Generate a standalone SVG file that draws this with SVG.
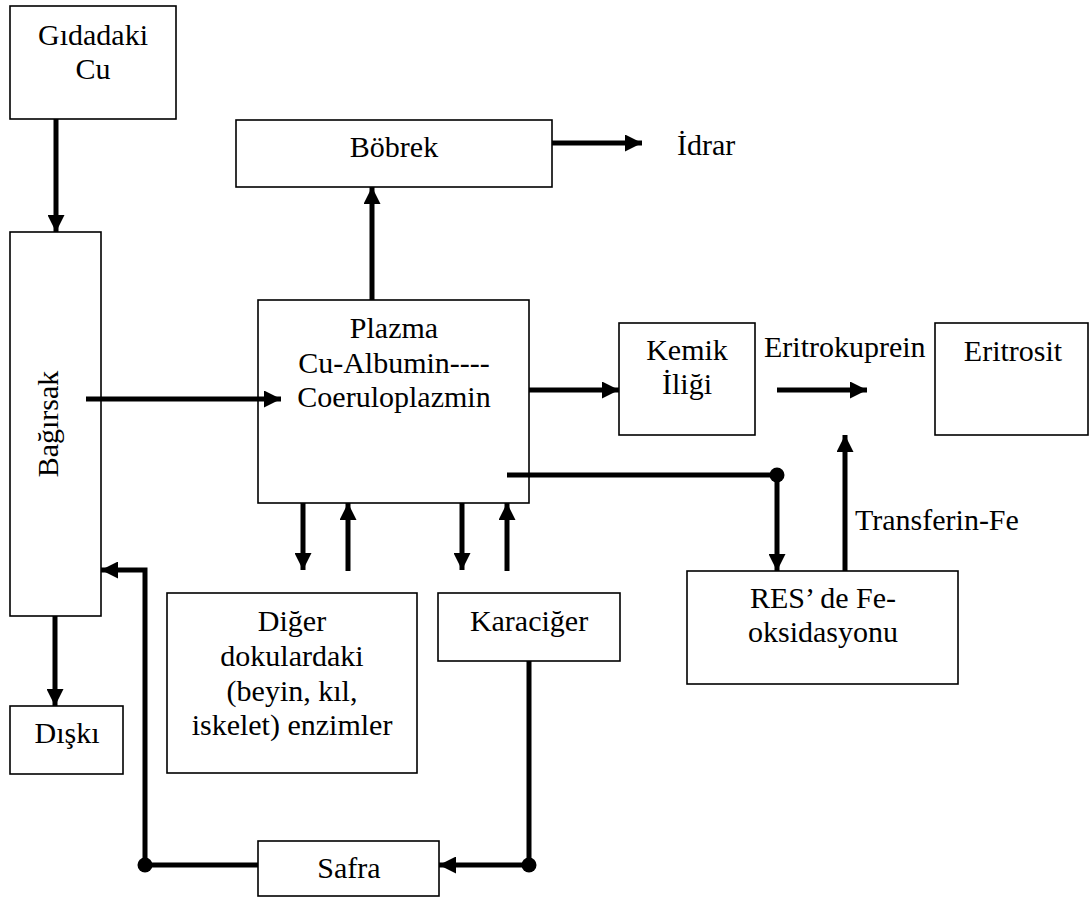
<svg xmlns="http://www.w3.org/2000/svg" width="1089" height="899" viewBox="0 0 1089 899">
<style>
.box{fill:#fff;stroke:#000;stroke-width:1.6}
text{font-family:'Liberation Serif','Times New Roman',Times,serif;font-size:30px;fill:#000}
.m{text-anchor:middle}
.c{fill:none;stroke:#000;stroke-width:5}
.a{marker-end:url(#ah)}
</style>
<defs>
<marker id="ah" markerUnits="userSpaceOnUse" markerWidth="17" markerHeight="17" refX="17" refY="8.5" orient="auto">
<path d="M0,0 L17,8.5 L0,17 z" fill="#000"/>
</marker>
</defs>
<rect width="1089" height="899" fill="#fff"/>
<g font-family="Liberation Serif, serif" font-size="30">
<g id="gida"><rect class="box" x="10" y="6" width="166" height="113"/><text class="m" x="93" y="45">Gıdadaki</text><text class="m" x="93" y="79">Cu</text></g>
<g id="bagirsak"><rect class="box" x="10" y="232" width="91" height="384"/><text class="m" transform="translate(58,424) rotate(-90)">Bağırsak</text></g>
<g id="bobrek"><rect class="box" x="236" y="120" width="316" height="67"/><text class="m" x="394" y="157">Böbrek</text></g>
<g id="idrar"><text x="677" y="155">İdrar</text></g>
<g id="plazma"><rect class="box" x="258" y="300" width="271" height="203"/><text class="m" x="394" y="338">Plazma</text><text class="m" x="394" y="373">Cu-Albumin----</text><text class="m" x="394" y="407">Coeruloplazmin</text></g>
<g id="kemik"><rect class="box" x="619" y="323" width="136" height="112"/><text class="m" x="687" y="360">Kemik</text><text class="m" x="687" y="394">İliği</text></g>
<g id="eritrokuprein"><text x="764" y="357">Eritrokuprein</text></g>
<g id="eritrosit"><rect class="box" x="935" y="323" width="153" height="112"/><text class="m" x="1013" y="361">Eritrosit</text></g>
<g id="transferin"><text x="855" y="530">Transferin-Fe</text></g>
<g id="res"><rect class="box" x="687" y="571" width="271" height="113"/><text class="m" x="823" y="608">RES’ de Fe-</text><text class="m" x="823" y="642">oksidasyonu</text></g>
<g id="diger"><rect class="box" x="167" y="593" width="250" height="180"/><text class="m" x="292" y="631">Diğer</text><text class="m" x="292" y="666">dokulardaki</text><text class="m" x="292" y="701">(beyin, kıl,</text><text class="m" x="292" y="735">iskelet) enzimler</text></g>
<g id="karaciger"><rect class="box" x="438" y="593" width="182" height="68"/><text class="m" x="529" y="631">Karaciğer</text></g>
<g id="diski"><rect class="box" x="10" y="706" width="113" height="68"/><text class="m" x="67" y="743">Dışkı</text></g>
<g id="safra"><rect class="box" x="258" y="841" width="181" height="55"/><text class="m" x="349" y="878">Safra</text></g>
</g>
<g id="connectors">
<path class="c a" d="M56,119 V232"/>
<path class="c a" d="M86,399 H281"/>
<path class="c a" d="M372,300 V187"/>
<path class="c a" d="M552,143 H642"/>
<path class="c a" d="M529,390 H619"/>
<path class="c a" d="M777,390 H867"/>
<path class="c a" d="M507,475 H777 V571"/>
<circle cx="777" cy="475" r="7.5" fill="#000"/>
<path class="c a" d="M845,571 V435"/>
<path class="c a" d="M303,503 V570"/>
<path class="c a" d="M348,571 V503"/>
<path class="c a" d="M462,503 V570"/>
<path class="c a" d="M507,571 V503"/>
<path class="c a" d="M55,616 V706"/>
<path class="c a" d="M529,661 V865 H439"/>
<circle cx="529" cy="865" r="7.5" fill="#000"/>
<path class="c a" d="M258,865 H145 V570 H101"/>
<circle cx="145" cy="865" r="7.5" fill="#000"/>
</g>
</svg>
